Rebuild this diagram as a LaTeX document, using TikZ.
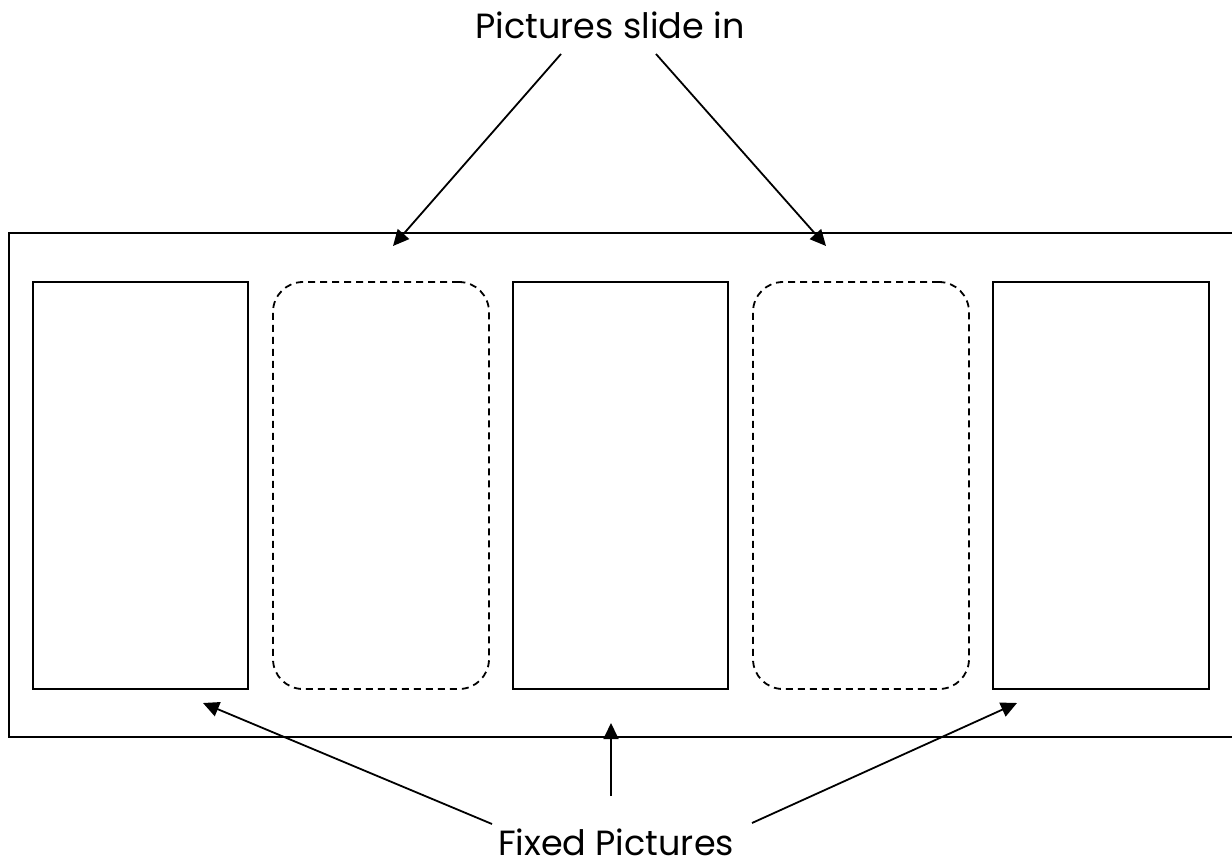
\documentclass[tikz,border=0pt]{standalone}
\usepackage{fontspec}
\setmainfont{Poppins}
\usetikzlibrary{arrows.meta}
\begin{document}
\begin{tikzpicture}[x=0.5pt,y=-0.5pt,
  frame/.style={draw=black,line width=1pt},
  fixedpic/.style={draw=black,line width=1pt,inner sep=0pt,minimum height=203.5pt},
  slidepic/.style={draw=black,line width=0.9pt,dash pattern=on 3.5pt off 2.5pt,rounded corners=15pt,inner sep=0pt,minimum height=203.5pt},
  pointer/.style={draw=black,line width=0.9pt,-{Triangle[length=8pt,width=7.5pt]}},
  caption/.style={font=\fontsize{17.5}{20}\selectfont,inner sep=0pt,anchor=base}]
  \useasboundingbox (0,0) rectangle (1232,867);
  % outer strip, open to the right
  \draw[frame] (1240,233) -- (9,233) -- (9,737) -- (1240,737);
  % picture slots
  \node[fixedpic,minimum width=107.5pt] (p1) at (140.5,485.5) {};
  \node[slidepic,minimum width=108pt] (p2) at (381,485.5) {};
  \node[fixedpic,minimum width=107.5pt] (p3) at (620.5,485.5) {};
  \node[slidepic,minimum width=108pt] (p4) at (861,485.5) {};
  \node[fixedpic,minimum width=108pt] (p5) at (1101,485.5) {};
  % captions
  \node[caption] (slide) at (610,39) {Pictures slide in};
  \node[caption] (fixed) at (616,855) {Fixed Pictures};
  % arrow anchors
  \coordinate (s1) at (561,54);
  \coordinate (s2) at (656,54);
  \coordinate (t1) at (393,246);
  \coordinate (t2) at (826,246);
  \coordinate (f1) at (492,824);
  \coordinate (f2) at (611,796);
  \coordinate (f3) at (752,823);
  \coordinate (u1) at (203,703);
  \coordinate (u2) at (611,723);
  \coordinate (u3) at (1017,703);
  \draw[pointer] (s1) -- (t1);
  \draw[pointer] (s2) -- (t2);
  \draw[pointer] (f1) -- (u1);
  \draw[pointer] (f2) -- (u2);
  \draw[pointer] (f3) -- (u3);
\end{tikzpicture}
\end{document}
